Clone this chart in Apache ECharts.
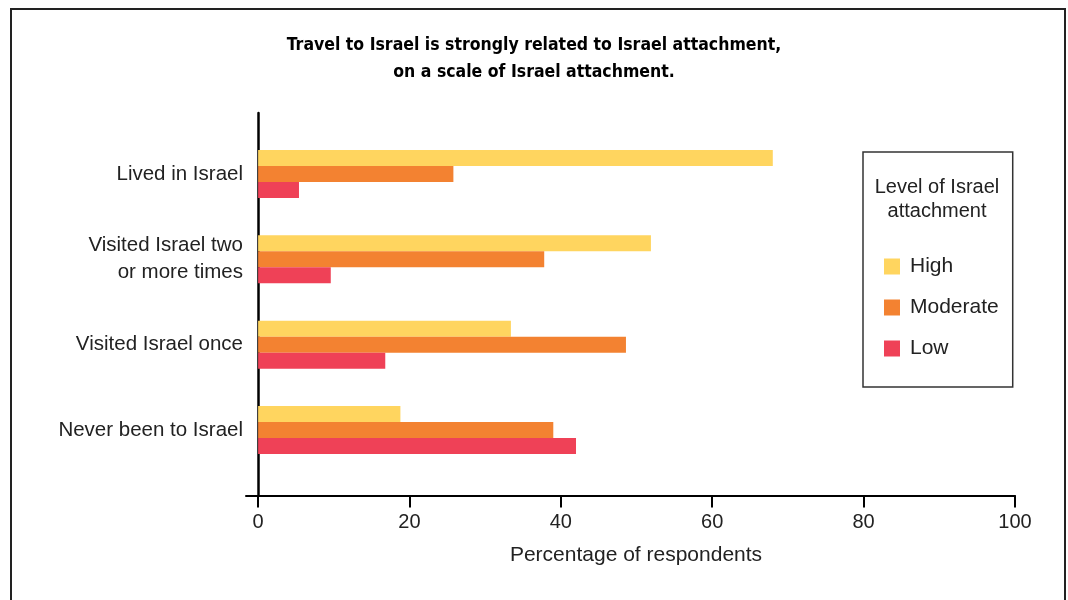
<!DOCTYPE html>
<html><head><meta charset="utf-8">
<script src="https://cdn.jsdelivr.net/npm/echarts@6/dist/echarts.min.js"></script>
<style>
html,body{margin:0;padding:0;background:#fff;}
#wrap{position:relative;width:1068px;height:600px;overflow:hidden;}
#chart{position:absolute;left:0;top:0;width:1068px;height:600px;}
#frame{position:absolute;left:10px;top:8px;width:1052px;height:700px;border:2px solid #222;pointer-events:none;}
</style></head><body>
<div id="wrap"><div id="chart"></div><div id="frame"></div></div>
<script>
const categories = ['Lived in Israel', 'Visited Israel two\nor more times', 'Visited Israel once', 'Never been to Israel'];
const seriesNames = ['High', 'Moderate', 'Low'];
const highValues = [68.0, 51.9, 33.4, 18.8];
const moderateValues = [25.8, 37.8, 48.6, 39.0];
const lowValues = [5.4, 9.6, 16.8, 42.0];
const xTicks = [0, 20, 40, 60, 80, 100];
const colors = ['#FFD55F', '#F38231', '#EF4157'];

const FONT = 'Liberation Sans';
const chart = echarts.init(document.getElementById('chart'), null, {renderer: 'canvas'});
const seriesValues = [highValues, moderateValues, lowValues];

chart.setOption({
  animation: false,
  backgroundColor: '#fff',
  title: [
    {
      text: 'Travel to Israel is strongly related to Israel attachment,\non a scale of Israel attachment.',
      left: 'center', top: 32, padding: 0,
      textStyle: {fontFamily: "'DejaVu Sans Condensed', 'Liberation Sans'", fontWeight: 'bold', fontSize: 17.5, lineHeight: 27, color: '#000'}
    },
    {
      text: 'Level of Israel\nattachment',
      left: 937, top: 175, padding: 0, textAlign: 'center',
      textStyle: {fontFamily: FONT, fontWeight: 'normal', fontSize: 20, lineHeight: 24, color: '#222'}
    }
  ],
  legend: {
    data: seriesNames,
    orient: 'vertical',
    left: 863, top: 152,
    padding: [104, 14, 28, 21],
    borderColor: '#333', borderWidth: 1.5,
    itemWidth: 16, itemHeight: 16, itemGap: 20,
    icon: 'rect',
    textStyle: {fontFamily: FONT, fontSize: 21, color: '#222', padding: [0, 0, 0, 5]}
  },
  grid: [
    {left: 246, right: 53, top: 113, bottom: 104.5},
    {left: 246, right: 53, top: 131.3, bottom: 127.3}
  ],
  xAxis: [
    {
      gridIndex: 0, type: 'value', min: -1.6, max: 100,
      axisLine: {show: true, lineStyle: {color: '#000', width: 2}},
      axisTick: {show: true, customValues: xTicks, length: 12, lineStyle: {color: '#000', width: 2}},
      axisLabel: {customValues: xTicks, margin: 17, fontFamily: FONT, fontSize: 20, color: '#222'},
      splitLine: {show: false},
      name: 'Percentage of respondents', nameLocation: 'middle', nameGap: 49,
      nameTextStyle: {fontFamily: FONT, fontSize: 21, color: '#222', padding: [0, 0, 0, 11]}
    },
    {
      gridIndex: 1, type: 'value', min: -1.6, max: 100, show: false
    }
  ],
  yAxis: [
    {
      gridIndex: 0, type: 'value', min: 0, max: 1,
      axisLine: {show: true, onZero: true, lineStyle: {color: '#000', width: 2.5}},
      axisTick: {show: false}, axisLabel: {show: false}, splitLine: {show: false}
    },
    {
      gridIndex: 1, type: 'category', data: categories, inverse: true,
      axisLine: {show: false, onZero: false}, axisTick: {show: false},
      axisLabel: {margin: 3, fontFamily: FONT, fontSize: 20.5, lineHeight: 27, color: '#222'},
      splitLine: {show: false}
    }
  ],
  series: seriesNames.map((name, i) => ({
    name: name, type: 'bar', xAxisIndex: 1, yAxisIndex: 1,
    data: seriesValues[i], barWidth: 16, barGap: '0%',
    itemStyle: {color: colors[i]}
  }))
});
</script>
</body></html>
